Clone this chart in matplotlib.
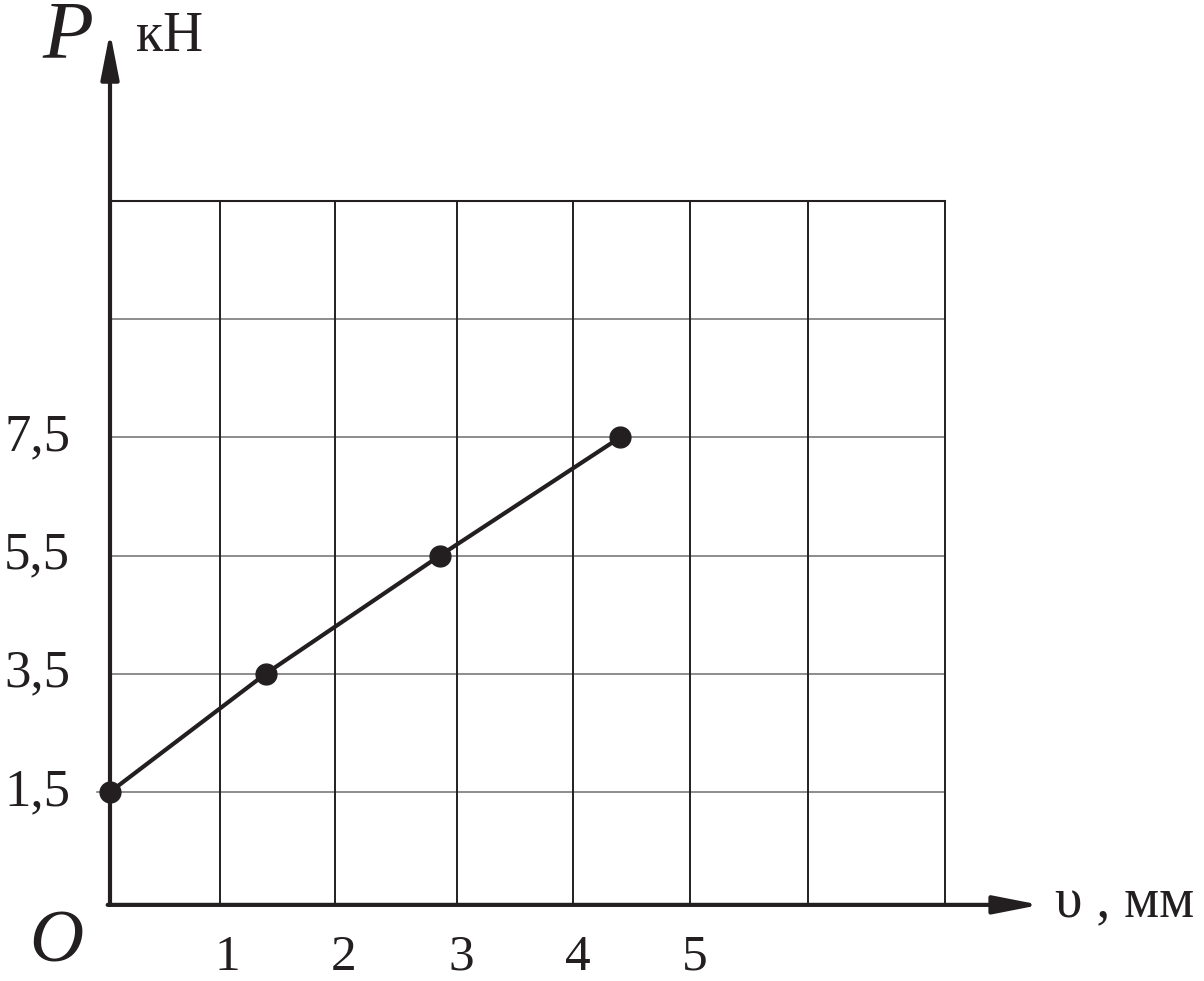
import numpy as np
import matplotlib
matplotlib.use("Agg")
import matplotlib.pyplot as plt

# data
v_mm = [0.0, 1.33, 2.82, 4.36]
P_kN = [1.5, 3.5, 5.5, 7.5]

x_labels = ["1", "2", "3", "4", "5"]
x_ticks = [1, 2, 3, 4, 5]
y_labels = ["1,5", "3,5", "5,5", "7,5"]
y_ticks = [1.5, 3.5, 5.5, 7.5]

# grid of the paper
v_grid = [0.94, 1.92, 2.97, 3.96, 4.96, 5.97]
h_grid = [1.5, 3.5, 5.5, 7.5, 9.5]
x_right = 7.14
y_top = 11.5
y_axis0 = -0.41

ink = "#231f20"
W, H = 1204, 981
plt.rcParams['font.family'] = ['Liberation Serif', 'DejaVu Serif']

fig = plt.figure(figsize=(W / 100, H / 100), dpi=100)
ax = fig.add_axes([0, 0, 1, 1])
# 117 px per mm, 59.1 px per kN, origin at pixel (110, 905)
ax.set_xlim(-110 / 117, (W - 110) / 117)
ax.set_ylim(1.5 - (H - 792) / 59.1, 1.5 + 792 / 59.1)
ax.axis("off")

# grid
for y in h_grid:
    x0 = -0.11 if y == 1.5 else 0.0
    ax.plot([x0, x_right], [y, y], color="#6d6d6d", lw=1.1, zorder=1)
ax.plot([0, x_right], [y_top, y_top], color=ink, lw=1.5, zorder=1)
for x in v_grid + [x_right]:
    ax.plot([x, x], [y_axis0, y_top], color=ink, lw=1.4, zorder=1)

# axes with arrows
arrow = dict(arrowstyle="-|>,head_length=2.8,head_width=0.55",
             lw=3, color=ink, shrinkA=0, shrinkB=0)
ax.annotate("", xy=(0, 14.36), xytext=(0, y_axis0), arrowprops=arrow, zorder=3)
ax.annotate("", xy=(7.95, y_axis0), xytext=(-0.02, y_axis0), arrowprops=arrow, zorder=3)

# data
ax.plot(v_mm, P_kN, color=ink, lw=3, marker="o", markersize=15, zorder=4)

# tick labels
for x, lab in zip(x_ticks, x_labels):
    ax.text(x, -1.3, lab, fontsize=37, ha="center", va="center", color=ink)
for y, lab in zip(y_ticks, y_labels):
    ax.text(-0.34, y, lab, fontsize=38, ha="right", va="center", color=ink)

# axis titles
fig.text(68 / W, 1 - 38 / H, "P", fontsize=60, style="italic", ha="center", va="center", color=ink)
fig.text(170 / W, 1 - 37 / H, "кН", fontsize=40, ha="center", va="center", color=ink)
fig.text(56 / W, 1 - 944 / H, "O", fontsize=54, style="italic", ha="center", va="center", color=ink)
fig.text(1055 / W, 1 - 903 / H, "υ , мм", fontsize=40, ha="left", va="center", color=ink)

fig.savefig("out.png", dpi=100)
